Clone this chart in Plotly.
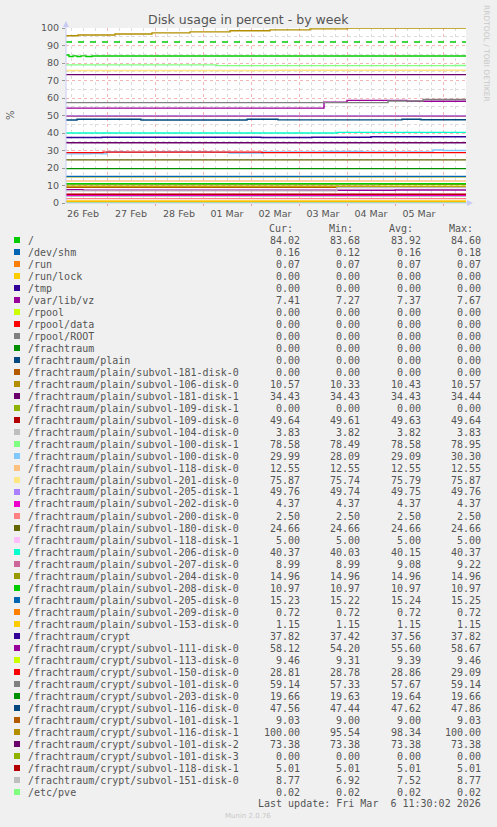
import plotly.graph_objects as go

# time window shown (munin "by week")
T_START = "2026-02-26 03:30"
T_END = "2026-03-06 11:30"

NAMES = [
    "/", "/dev/shm", "/run", "/run/lock", "/tmp", "/var/lib/vz", "/rpool",
    "/rpool/data", "/rpool/ROOT", "/frachtraum", "/frachtraum/plain",
    "/frachtraum/plain/subvol-181-disk-0", "/frachtraum/plain/subvol-106-disk-0",
    "/frachtraum/plain/subvol-181-disk-1", "/frachtraum/plain/subvol-109-disk-1",
    "/frachtraum/plain/subvol-109-disk-0", "/frachtraum/plain/subvol-104-disk-0",
    "/frachtraum/plain/subvol-100-disk-1", "/frachtraum/plain/subvol-100-disk-0",
    "/frachtraum/plain/subvol-118-disk-0", "/frachtraum/plain/subvol-201-disk-0",
    "/frachtraum/plain/subvol-205-disk-1", "/frachtraum/plain/subvol-202-disk-0",
    "/frachtraum/plain/subvol-200-disk-0", "/frachtraum/plain/subvol-180-disk-0",
    "/frachtraum/plain/subvol-118-disk-1", "/frachtraum/plain/subvol-206-disk-0",
    "/frachtraum/plain/subvol-207-disk-0", "/frachtraum/plain/subvol-204-disk-0",
    "/frachtraum/plain/subvol-208-disk-0", "/frachtraum/plain/subvol-205-disk-0",
    "/frachtraum/plain/subvol-209-disk-0", "/frachtraum/plain/subvol-153-disk-0",
    "/frachtraum/crypt", "/frachtraum/crypt/subvol-111-disk-0",
    "/frachtraum/crypt/subvol-113-disk-0", "/frachtraum/crypt/subvol-150-disk-0",
    "/frachtraum/crypt/subvol-101-disk-0", "/frachtraum/crypt/subvol-203-disk-0",
    "/frachtraum/crypt/subvol-116-disk-0", "/frachtraum/crypt/subvol-101-disk-1",
    "/frachtraum/crypt/subvol-116-disk-1", "/frachtraum/crypt/subvol-101-disk-2",
    "/frachtraum/crypt/subvol-101-disk-3", "/frachtraum/crypt/subvol-118-disk-1",
    "/frachtraum/crypt/subvol-151-disk-0", "/etc/pve",
]
CUR = [84.02, 0.16, 0.07, 0.00, 0.00, 7.41, 0.00, 0.00, 0.00, 0.00, 0.00, 0.00,
       10.57, 34.43, 0.00, 49.64, 3.83, 78.58, 29.99, 12.55, 75.87, 49.76, 4.37,
       2.50, 24.66, 5.00, 40.37, 8.99, 14.96, 10.97, 15.23, 0.72, 1.15, 37.82,
       58.12, 9.46, 28.81, 59.14, 19.66, 47.56, 9.03, 100.00, 73.38, 0.00, 5.01,
       8.77, 0.02]
MIN = [83.68, 0.12, 0.07, 0.00, 0.00, 7.27, 0.00, 0.00, 0.00, 0.00, 0.00, 0.00,
       10.33, 34.43, 0.00, 49.61, 3.82, 78.49, 28.09, 12.55, 75.74, 49.74, 4.37,
       2.50, 24.66, 5.00, 40.03, 8.99, 14.96, 10.97, 15.22, 0.72, 1.15, 37.42,
       54.20, 9.31, 28.78, 57.33, 19.63, 47.44, 9.00, 95.54, 73.38, 0.00, 5.01,
       6.92, 0.02]
AVG = [83.92, 0.16, 0.07, 0.00, 0.00, 7.37, 0.00, 0.00, 0.00, 0.00, 0.00, 0.00,
       10.43, 34.43, 0.00, 49.63, 3.82, 78.58, 29.09, 12.55, 75.79, 49.75, 4.37,
       2.50, 24.66, 5.00, 40.15, 9.08, 14.96, 10.97, 15.24, 0.72, 1.15, 37.56,
       55.60, 9.39, 28.86, 57.67, 19.64, 47.62, 9.00, 98.34, 73.38, 0.00, 5.01,
       7.52, 0.02]
MAX = [84.60, 0.18, 0.07, 0.00, 0.00, 7.67, 0.00, 0.00, 0.00, 0.00, 0.00, 0.00,
       10.57, 34.44, 0.00, 49.64, 3.83, 78.95, 30.30, 12.55, 75.87, 49.76, 4.37,
       2.50, 24.66, 5.00, 40.37, 9.22, 14.96, 10.97, 15.25, 0.72, 1.15, 37.82,
       58.67, 9.46, 29.09, 59.14, 19.66, 47.86, 9.03, 100.00, 73.38, 0.00, 5.01,
       8.77, 0.02]

# munin default colour cycle
COLOURS = ["#00CC00", "#0066B3", "#FF8000", "#FFCC00", "#330099", "#990099",
           "#CCFF00", "#FF0000", "#808080", "#008F00", "#00487D", "#B35A00",
           "#B38F00", "#6B006B", "#8FB300", "#B30000", "#BEBEBE", "#80FF80",
           "#80C9FF", "#FFC080", "#FFE680", "#AA80FF", "#EE00CC", "#FF8080",
           "#666600", "#FFBFFF", "#00FFCC", "#CC6699", "#999900"]

WARNING = 92

# series that change during the week (step start times + values)
ROOT_T = ["2026-02-26 03:30", "2026-02-26 05:00", "2026-02-26 07:00", "2026-02-26 09:00",
          "2026-02-26 11:00", "2026-02-26 13:30", "2026-02-26 16:30"]
ROOT_V = [84.60, 83.68, 84.05, 83.70, 84.10, 83.75, 84.02]
VZ_T = ["2026-02-26 03:30", "2026-02-26 12:00", "2026-03-03 00:00", "2026-03-05 00:00"]
VZ_V = [7.67, 7.37, 7.27, 7.41]
P106_T = ["2026-02-26 03:30", "2026-03-04 16:00"]
P106_V = [10.33, 10.57]
P100D1_T = ["2026-02-26 03:30", "2026-03-01 07:00", "2026-03-06 06:00"]
P100D1_V = [78.95, 78.49, 78.58]
P100D0_T = ["2026-02-26 03:30", "2026-02-26 16:00", "2026-02-26 21:00", "2026-02-27 00:00",
            "2026-02-27 09:00", "2026-02-27 22:00", "2026-03-01 04:00", "2026-03-01 13:00",
            "2026-03-02 06:00", "2026-03-03 12:00", "2026-03-04 08:00", "2026-03-05 19:00",
            "2026-03-06 00:00"]
P100D0_V = [28.09, 28.30, 28.09, 29.30, 29.00, 29.30, 29.00, 28.60, 29.20, 29.40, 29.20,
            30.30, 29.99]
P201_T = ["2026-02-26 03:30", "2026-03-02 12:00"]
P201_V = [75.74, 75.87]
P206_T = ["2026-02-26 03:30", "2026-03-03 19:00"]
P206_V = [40.03, 40.37]
P207_T = ["2026-02-26 03:30", "2026-02-28 22:00"]
P207_V = [9.22, 8.99]
CRYPT_T = ["2026-02-26 03:30", "2026-02-26 21:30", "2026-03-02 05:00", "2026-03-03 06:30",
           "2026-03-04 12:00"]
CRYPT_V = [37.42, 37.60, 37.42, 37.60, 37.82]
C111_T = ["2026-02-26 03:30", "2026-03-03 12:30", "2026-03-04 00:00", "2026-03-05 06:00"]
C111_V = [54.20, 57.60, 58.67, 58.12]
C113_T = ["2026-02-26 03:30", "2026-03-04 16:00"]
C113_V = [9.31, 9.46]
C150_T = ["2026-02-26 03:30", "2026-02-26 22:00", "2026-03-02 05:30"]
C150_V = [28.78, 29.09, 28.81]
C101D0_T = ["2026-02-26 03:30", "2026-03-04 20:30", "2026-03-05 14:00"]
C101D0_V = [57.33, 58.30, 59.14]
C116D0_T = ["2026-02-26 03:30", "2026-02-26 09:00", "2026-02-27 17:00", "2026-03-01 22:00",
            "2026-03-02 13:30", "2026-03-05 03:30", "2026-03-05 13:00"]
C116D0_V = [47.44, 47.86, 47.44, 47.86, 47.50, 47.86, 47.56]
C101D1_T = ["2026-02-26 03:30", "2026-03-05 00:00"]
C101D1_V = [9.00, 9.03]
C116D1_T = ["2026-02-26 03:30", "2026-02-26 09:30", "2026-02-27 04:00", "2026-02-27 22:30",
            "2026-02-28 17:30", "2026-03-01 13:30", "2026-03-02 09:30", "2026-03-03 05:30",
            "2026-03-04 00:00"]
C116D1_V = [95.54, 96.00, 96.60, 97.20, 97.80, 98.40, 98.90, 99.50, 100.00]
C151_T = ["2026-02-26 03:30", "2026-03-03 19:00"]
C151_V = [6.92, 8.77]

STEPS = {
    "/": (ROOT_T, ROOT_V),
    "/var/lib/vz": (VZ_T, VZ_V),
    "/frachtraum/plain/subvol-106-disk-0": (P106_T, P106_V),
    "/frachtraum/plain/subvol-100-disk-1": (P100D1_T, P100D1_V),
    "/frachtraum/plain/subvol-100-disk-0": (P100D0_T, P100D0_V),
    "/frachtraum/plain/subvol-201-disk-0": (P201_T, P201_V),
    "/frachtraum/plain/subvol-206-disk-0": (P206_T, P206_V),
    "/frachtraum/plain/subvol-207-disk-0": (P207_T, P207_V),
    "/frachtraum/crypt": (CRYPT_T, CRYPT_V),
    "/frachtraum/crypt/subvol-111-disk-0": (C111_T, C111_V),
    "/frachtraum/crypt/subvol-113-disk-0": (C113_T, C113_V),
    "/frachtraum/crypt/subvol-150-disk-0": (C150_T, C150_V),
    "/frachtraum/crypt/subvol-101-disk-0": (C101D0_T, C101D0_V),
    "/frachtraum/crypt/subvol-116-disk-0": (C116D0_T, C116D0_V),
    "/frachtraum/crypt/subvol-101-disk-1": (C101D1_T, C101D1_V),
    "/frachtraum/crypt/subvol-116-disk-1": (C116D1_T, C116D1_V),
    "/frachtraum/crypt/subvol-151-disk-0": (C151_T, C151_V),
}

TEXT = "#555555"
MONO = "DejaVu Sans Mono"
SANS = "DejaVu Sans"

# plot box in pixels
L, R, TOP, BOT = 66, 466, 28, 203


def px_x(px):
    return (px - L) / (R - L)


def px_y(py):
    return (BOT - py) / (BOT - TOP)


fig = go.Figure()

for i, name in enumerate(NAMES):
    colour = COLOURS[i % len(COLOURS)]
    if name in STEPS:
        t, v = STEPS[name]
    else:
        t, v = [T_START], [CUR[i]]
    fig.add_trace(go.Scatter(
        x=list(t) + [T_END], y=list(v) + [v[-1]],
        mode="lines", line=dict(color=colour, width=1.4, shape="hv"),
        name=name, showlegend=False,
    ))

# warning level
fig.add_trace(go.Scatter(
    x=[T_START, T_END], y=[WARNING, WARNING], mode="lines",
    line=dict(color="#00CC00", width=1.4, dash="6px,6px"),
    showlegend=False,
))

shapes = []
annotations = []

# axis lines with arrows
axis_col = "#C8CCF4"
shapes.append(dict(type="line", xref="paper", yref="paper",
                   x0=0, x1=px_x(470), y0=0, y1=0, line=dict(color=axis_col, width=1)))
shapes.append(dict(type="line", xref="paper", yref="paper",
                   x0=0, x1=0, y0=0, y1=px_y(23), line=dict(color=axis_col, width=1)))
shapes.append(dict(type="path", xref="paper", yref="paper", fillcolor=axis_col,
                   line=dict(width=0),
                   path=f"M {px_x(467)} {px_y(200)} L {px_x(473)} {px_y(203)} L {px_x(467)} {px_y(206)} Z"))
shapes.append(dict(type="path", xref="paper", yref="paper", fillcolor=axis_col,
                   line=dict(width=0),
                   path=f"M {px_x(63)} {px_y(27)} L {px_x(66)} {px_y(21)} L {px_x(69)} {px_y(27)} Z"))

# legend table
col_right = [302, 362, 423, 483]
headers = ["Cur:", "Min:", "Avg:", "Max:"]
for hx, h in zip([267, 327, 387, 447], headers):
    annotations.append(dict(xref="paper", yref="paper", x=px_x(hx), y=px_y(228),
                            text=h, showarrow=False, xanchor="left", yanchor="middle",
                            font=dict(family=MONO, size=10, color=TEXT)))

for i, name in enumerate(NAMES):
    yy = 240 + 12 * i
    colour = COLOURS[i % len(COLOURS)]
    shapes.append(dict(type="rect", xref="paper", yref="paper",
                       x0=px_x(14), x1=px_x(20), y0=px_y(yy - 3), y1=px_y(yy + 3),
                       fillcolor=colour, line=dict(width=0)))
    annotations.append(dict(xref="paper", yref="paper", x=px_x(26), y=px_y(yy),
                            text=name, showarrow=False, xanchor="left", yanchor="middle",
                            font=dict(family=MONO, size=10, color=TEXT)))
    for cx, val in zip(col_right, [CUR[i], MIN[i], AVG[i], MAX[i]]):
        annotations.append(dict(xref="paper", yref="paper", x=px_x(cx), y=px_y(yy),
                                text=f"{val:.2f}", showarrow=False, xanchor="right",
                                yanchor="middle",
                                font=dict(family=MONO, size=10, color=TEXT)))

annotations.append(dict(xref="paper", yref="paper", x=px_x(483), y=px_y(803),
                        text="Last update: Fri Mar  6 11:30:02 2026", showarrow=False,
                        xanchor="right", yanchor="middle",
                        font=dict(family=MONO, size=10, color=TEXT)))
annotations.append(dict(xref="paper", yref="paper", x=px_x(248), y=px_y(816),
                        text="Munin 2.0.76", showarrow=False,
                        xanchor="center", yanchor="middle",
                        font=dict(family=SANS, size=7, color="#C8C8C8")))
annotations.append(dict(xref="paper", yref="paper", x=px_x(248), y=px_y(19),
                        text="Disk usage in percent - by week", showarrow=False,
                        xanchor="center", yanchor="middle",
                        font=dict(family=SANS, size=12.5, color=TEXT)))
annotations.append(dict(xref="paper", yref="paper", x=px_x(10), y=px_y(115),
                        text="%", showarrow=False, textangle=-90,
                        xanchor="center", yanchor="middle",
                        font=dict(family=SANS, size=10, color=TEXT)))
annotations.append(dict(xref="paper", yref="paper", x=px_x(487), y=px_y(53),
                        text="RRDTOOL / TOBI OETIKER", showarrow=False, textangle=90,
                        xanchor="center", yanchor="middle",
                        font=dict(family=SANS, size=7.5, color="#C8C8C8")))

fig.update_layout(
    width=497, height=827,
    margin=dict(l=L, r=497 - R, t=TOP, b=827 - BOT),
    paper_bgcolor="#F0F0F0", plot_bgcolor="#FFFFFF",
    shapes=shapes, annotations=annotations,
    font=dict(family=SANS, size=9.5, color=TEXT),
    xaxis=dict(
        type="date", range=[T_START, T_END],
        tick0="2026-02-26", dtick=86400000, tickformat="%d %b",
        ticklabelmode="period", showline=False, zeroline=False,
        ticks="outside", ticklen=2, tickcolor="#E8A0A0",
        gridcolor="rgba(235,120,120,0.55)", griddash="dot", gridwidth=1,
        minor=dict(dtick=6 * 3600000, showgrid=True, gridcolor="#DCDCDC",
                   griddash="dot"),
        tickfont=dict(family=SANS, size=9.5, color=TEXT),
    ),
    yaxis=dict(
        range=[0, 100], dtick=10, tick0=0, showline=False, zeroline=False,
        ticks="outside", ticklen=3, tickcolor="#999999",
        gridcolor="rgba(235,120,120,0.55)", griddash="dot", gridwidth=1,
        minor=dict(dtick=5, showgrid=True, gridcolor="#DCDCDC", griddash="dot"),
        tickfont=dict(family=SANS, size=9.5, color=TEXT),
        ticklabelstandoff=1,
    ),
)

# static image look: no modebar, and no browser page margin around the figure
fig.write_html("out.html", config={"displayModeBar": False},
               post_script="document.body.style.margin='0';")
